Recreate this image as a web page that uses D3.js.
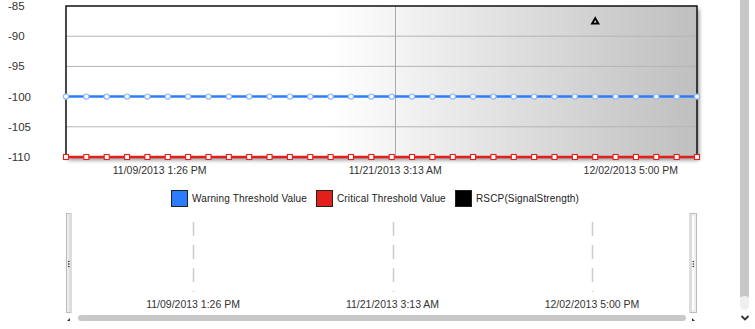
<!DOCTYPE html>
<html>
<head>
  <meta charset="utf-8">
  <script src="https://cdn.jsdelivr.net/npm/d3@7"></script>
  <style>
    body {margin:0; background:#fff; overflow:hidden;}
    text {font-family: "Liberation Sans", Arial, sans-serif; fill:#333;}
    .legend text {font-size: 10px; fill:#222; letter-spacing:0.15px;}
  </style>
</head>
<body>
<script>
// daily samples, 32 days
const startDate = new Date(2013, 10, 4, 23, 0);
const days = d3.range(32).map(i => d3.timeDay.offset(startDate, i));
const warningValues = days.map(() => -100);
const criticalValues = days.map(() => -110);
const rscpPoints = [{date: new Date(2013, 10, 30, 23, 0), value: -87.6}];
const tickDates = [new Date(2013, 10, 9, 13, 26), new Date(2013, 10, 21, 3, 13), new Date(2013, 11, 2, 17, 0)];
const tickLabels = ["11/09/2013 1:26 PM", "11/21/2013 3:13 AM", "12/02/2013 5:00 PM"];
const yTicks = [-85, -90, -95, -100, -105, -110];
const legendItems = [
  {name: "Warning Threshold Value", color: "#2b7cff"},
  {name: "Critical Threshold Value", color: "#e2201b"},
  {name: "RSCP(SignalStrength)", color: "#000"}
];
// navigator covers a wider window
const navDomain = [new Date(2013, 10, 2, 11, 26), new Date(2013, 11, 8, 9, 30)];

const W = 755, H = 329;
const plot = {left: 66, right: 697, top: 6, bottom: 157};

const svg = d3.select("body").append("svg").attr("width", W).attr("height", H);
const defs = svg.append("defs");

const grad = defs.append("linearGradient").attr("id", "bg").attr("x1", "0%").attr("x2", "100%");
grad.append("stop").attr("offset", "0%").attr("stop-color", "#fff");
grad.append("stop").attr("offset", "42%").attr("stop-color", "#fff");
grad.append("stop").attr("offset", "100%").attr("stop-color", "#bfbfbf");

const shadow = defs.append("filter").attr("id", "shadow").attr("x", "-5%").attr("y", "-5%").attr("width", "110%").attr("height", "120%");
shadow.append("feGaussianBlur").attr("in", "SourceAlpha").attr("stdDeviation", 2);
shadow.append("feOffset").attr("dx", 2).attr("dy", 3).attr("result", "b");
shadow.append("feComponentTransfer").append("feFuncA").attr("type", "linear").attr("slope", 0.45);
const m = shadow.append("feMerge");
m.append("feMergeNode");
m.append("feMergeNode").attr("in", "SourceGraphic");

const x = d3.scaleTime().domain([days[0], days[days.length - 1]]).range([plot.left, plot.right]);
const y = d3.scaleLinear().domain([-110, -85]).range([plot.bottom, plot.top]);

// plot background with shadow
svg.append("rect")
  .attr("x", plot.left).attr("y", plot.top)
  .attr("width", plot.right - plot.left).attr("height", plot.bottom - plot.top)
  .attr("fill", "url(#bg)").attr("filter", "url(#shadow)");

// gridlines
svg.append("g").selectAll("line").data(yTicks.filter(d => d !== -85 && d !== -110 && d !== -100))
  .join("line")
  .attr("x1", plot.left).attr("x2", plot.right)
  .attr("y1", d => y(d)).attr("y2", d => y(d))
  .attr("stroke", "#b4b4b4").attr("stroke-width", 1);

svg.append("line")
  .attr("x1", Math.round(x(tickDates[1])) + 0.5).attr("x2", Math.round(x(tickDates[1])) + 0.5)
  .attr("y1", plot.top).attr("y2", plot.bottom)
  .attr("stroke", "#aaa");

// border
svg.append("path")
  .attr("d", `M${plot.left},${plot.bottom}V${plot.top}H${plot.right}V${plot.bottom}`)
  .attr("fill", "none").attr("stroke", "#111").attr("stroke-width", 1.5);

// y labels
svg.append("g").selectAll("text").data(yTicks).join("text")
  .attr("x", 8).attr("y", d => y(d) + 4)
  .attr("font-size", 11.5).attr("fill", "#444")
  .text(d => d);

// x labels
svg.append("g").selectAll("text").data(tickDates).join("text")
  .attr("x", d => x(d)).attr("y", 174)
  .attr("text-anchor", "middle").attr("font-size", 10.5)
  .text((d, i) => tickLabels[i]);

const line = d3.line().x(d => x(d[0])).y(d => y(d[1]));

// warning series
const warn = days.map((d, i) => [d, warningValues[i]]);
svg.append("path").datum(warn).attr("d", line)
  .attr("fill", "none").attr("stroke", legendItems[0].color).attr("stroke-width", 2.5);
svg.append("g").selectAll("circle").data(warn).join("circle")
  .attr("cx", d => x(d[0])).attr("cy", d => y(d[1])).attr("r", 2.6)
  .attr("fill", "#fff").attr("stroke", "#8fb8f5").attr("stroke-width", 1.2);

// critical series
const crit = days.map((d, i) => [d, criticalValues[i]]);
svg.append("path").datum(crit).attr("d", line)
  .attr("fill", "none").attr("stroke", legendItems[1].color).attr("stroke-width", 2.5);
svg.append("g").selectAll("rect").data(crit).join("rect")
  .attr("x", d => x(d[0]) - 2.5).attr("y", d => y(d[1]) - 2.5)
  .attr("width", 5).attr("height", 5)
  .attr("fill", "#fff").attr("stroke", "#e2201b").attr("stroke-width", 1.1);

// rscp
svg.append("g").selectAll("path").data(rscpPoints).join("path")
  .attr("transform", d => `translate(${x(d.date)},${y(d.value)})`)
  .attr("d", d3.symbol(d3.symbolTriangle, 16))
  .attr("fill", "#fff").attr("stroke", "#000").attr("stroke-width", 2);

// legend
const lg = svg.append("g").attr("class", "legend");
const legendX = [171, 316, 455];
legendItems.forEach((it, i) => {
  lg.append("rect").attr("x", legendX[i] + 0.5).attr("y", 190.5).attr("width", 16).attr("height", 16)
    .attr("fill", it.color).attr("stroke", "#222");
  lg.append("text").attr("x", legendX[i] + 21).attr("y", 202).text(it.name);
});

// navigator
const nav = {left: 71, right: 690, top: 214, bottom: 312};
const xn = d3.scaleTime().domain(navDomain).range([nav.left, nav.right]);
svg.append("g").selectAll("line").data(tickDates).join("line")
  .attr("x1", d => Math.round(xn(d)) + 0.5).attr("x2", d => Math.round(xn(d)) + 0.5)
  .attr("y1", 222).attr("y2", 292)
  .attr("stroke", "#ccc").attr("stroke-width", 1.5).attr("stroke-dasharray", "14,9");
svg.append("g").selectAll("text").data(tickDates).join("text")
  .attr("x", d => xn(d)).attr("y", 308)
  .attr("text-anchor", "middle").attr("font-size", 10.5)
  .text((d, i) => tickLabels[i]);

// handles
[[66.5, nav.left], [nav.right, 696.5]].forEach(([a, b]) => {
  const w = Math.abs(b - a);
  const g = svg.append("g");
  g.append("rect").attr("x", Math.min(a, b)).attr("y", 213.5).attr("width", w).attr("height", 99)
    .attr("fill", "#fff").attr("stroke", "#bbb");
  g.append("rect").attr("x", Math.min(a, b) + 1.5).attr("y", 215).attr("width", w - 3).attr("height", 96)
    .attr("fill", "none").attr("stroke", "#ddd");
  [-2.5, 0, 2.5].forEach(dy => g.append("circle").attr("cx", Math.min(a, b) + w / 2).attr("cy", 264 + dy)
    .attr("r", 0.8).attr("fill", "#333"));
});

// horizontal scrollbar
svg.append("rect").attr("x", 78).attr("y", 315).attr("width", 608).attr("height", 6).attr("rx", 3)
  .attr("fill", "#c8c8c8");
svg.append("path").attr("d", "M67,321l3,-3v3z").attr("fill", "#333");
svg.append("path").attr("d", "M692,318l3,3h-3z").attr("fill", "#333");

// vertical page scrollbar
svg.append("rect").attr("x", 740).attr("y", -6).attr("width", 9).attr("height", 306).attr("rx", 4.5)
  .attr("fill", "#c8c8c8");
svg.append("rect").attr("x", 740).attr("y", 296).attr("width", 9).attr("height", 14).attr("rx", 4.5)
  .attr("fill", "#efefef");
svg.append("path").attr("d", "M741.5,316l3.5,3.5l3.5,-3.5").attr("fill", "none").attr("stroke", "#333").attr("stroke-width", 1.8);
</script>
</body>
</html>
